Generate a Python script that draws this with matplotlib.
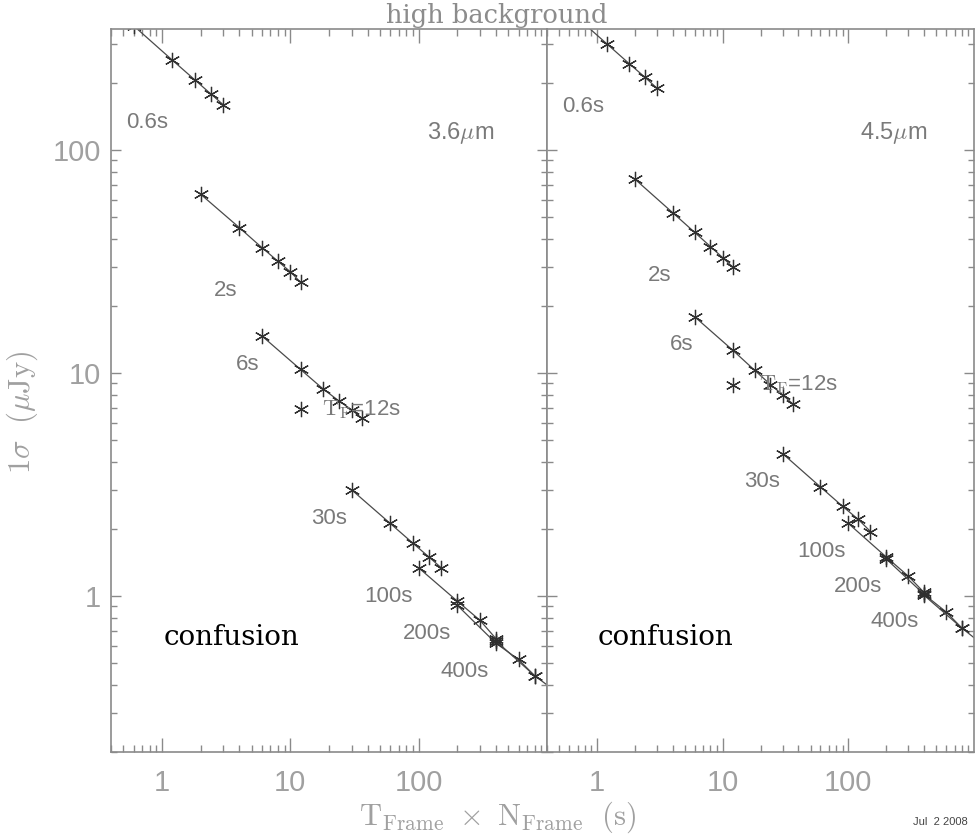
import matplotlib
matplotlib.use("Agg")
import matplotlib.pyplot as plt
from matplotlib.ticker import FixedLocator, LogLocator, NullFormatter, FixedFormatter

plt.rcParams['mathtext.fontset'] = 'cm'

# ---------------- data ----------------
x_06 = [0.6, 1.2, 1.8, 2.4, 3.0]
y36_06 = [362, 254, 207, 179, 160]
y45_06 = [424, 300, 245, 213, 190]

x_2 = [2, 4, 6, 8, 10, 12]
y36_2 = [63.5, 45.0, 36.6, 31.8, 28.5, 25.6]
y45_2 = [74.3, 52.5, 42.8, 37.0, 33.0, 30.0]

x_6 = [6, 12, 18, 24, 30, 36]
y36_6 = [14.7, 10.4, 8.5, 7.5, 6.86, 6.29]
y45_6 = [17.9, 12.7, 10.3, 8.9, 8.0, 7.3]

x_12 = [12]
y36_12 = [6.9]
y45_12 = [8.9]

x_30 = [30, 60, 90, 120, 150]
y36_30 = [3.0, 2.12, 1.73, 1.50, 1.34]
y45_30 = [4.36, 3.09, 2.53, 2.21, 1.95]

x_100 = [100, 200, 300, 400]
y36_100 = [1.34, 0.95, 0.78, 0.645]
y45_100 = [2.12, 1.50, 1.23, 1.04]

x_200 = [200, 400, 600, 800]
y36_200 = [0.91, 0.615, 0.52, 0.44]
y45_200 = [1.47, 1.02, 0.85, 0.72]

x_400 = [400, 800, 1200]
y36_400 = [0.63, 0.44, 0.37]
y45_400 = [1.01, 0.72, 0.60]

xticks = [1, 10, 100]
xtick_labels = ['1', '10', '100']
yticks = [1, 10, 100]
ytick_labels = ['1', '10', '100']

# labels: (text, x, y) in data coords for each panel
labels36 = [('0.6s', 0.525, 133), ('2s', 2.54, 23.6), ('6s', 3.77, 10.9),
            ('30s', 14.4, 2.23), ('100s', 37.9, 1.0), ('200s', 74.8, 0.68),
            ('400s', 148, 0.46)]
labels45 = [('0.6s', 0.524, 158), ('2s', 2.52, 27.5), ('6s', 3.82, 13.4),
            ('30s', 14.8, 3.26), ('100s', 39.5, 1.59), ('200s', 76.3, 1.10),
            ('400s', 150, 0.766)]

panels = [
    dict(name=r'3.6$\mu$m', name_pos=(117, 120), tf_pos=(17.5, 6.86),
         series=[(x_06, y36_06), (x_2, y36_2), (x_6, y36_6), (x_12, y36_12),
                 (x_30, y36_30), (x_100, y36_100), (x_200, y36_200), (x_400, y36_400)],
         labels=labels36),
    dict(name=r'4.5$\mu$m', name_pos=(123, 120), tf_pos=(19.3, 8.88),
         series=[(x_06, y45_06), (x_2, y45_2), (x_6, y45_6), (x_12, y45_12),
                 (x_30, y45_30), (x_100, y45_100), (x_200, y45_200), (x_400, y45_400)],
         labels=labels45),
]

# ---------------- figure ----------------
W, H = 977, 834
fig = plt.figure(figsize=(W / 100, H / 100), dpi=100)
ax1 = fig.add_axes([111 / W, 82 / H, 436 / W, 723 / H])
ax2 = fig.add_axes([547 / W, 82 / H, 427 / W, 723 / H])

spine_c = '#8a8a8a'
tick_lab_c = '#a0a0a0'
lab_c = '#7a7a7a'
mk = (6, 2, 0)

for i, (ax, p) in enumerate(zip([ax1, ax2], panels)):
    ax.set_xscale('log')
    ax.set_yscale('log')
    ax.set_xlim(0.4, 1000)
    ax.set_ylim(0.2, 350)
    for (xs, ys) in p['series']:
        ax.plot(xs, ys, color='#4a4a4a', lw=0.9, marker=mk, ms=11, mew=0.9,
                mec='#303030', mfc='#303030')
    for s in ax.spines.values():
        s.set_color(spine_c)
        s.set_linewidth(1.2)
    ax.xaxis.set_major_locator(FixedLocator(xticks))
    ax.xaxis.set_major_formatter(FixedFormatter(xtick_labels))
    ax.xaxis.set_minor_locator(LogLocator(base=10, subs=range(2, 10), numticks=20))
    ax.xaxis.set_minor_formatter(NullFormatter())
    ax.yaxis.set_major_locator(FixedLocator(yticks))
    ax.yaxis.set_major_formatter(FixedFormatter(ytick_labels))
    ax.yaxis.set_minor_locator(LogLocator(base=10, subs=range(2, 10), numticks=20))
    ax.yaxis.set_minor_formatter(NullFormatter())
    ax.tick_params(axis='both', which='both', direction='in', top=True, right=True,
                   color=spine_c, width=1.0, labelcolor=tick_lab_c)
    ax.tick_params(axis='x', which='major', length=10, pad=12, labelsize=21)
    ax.tick_params(axis='x', which='minor', length=5)
    ax.tick_params(axis='y', which='major', length=7, pad=7, labelsize=21)
    ax.tick_params(axis='y', which='minor', length=4)
    for lab in ax.get_xticklabels() + ax.get_yticklabels():
        lab.set_fontfamily('Liberation Sans')
    if i == 1:
        ax.tick_params(axis='y', which='both', labelleft=False)

    for (t, x, y) in p['labels']:
        ax.text(x, y, t, ha='left', va='center', fontsize=16, color=lab_c,
                family='Liberation Sans')
    ax.text(p['name_pos'][0], p['name_pos'][1], p['name'], ha='left', va='center',
            fontsize=17, color=lab_c, family='Liberation Sans')
    ax.text(p['tf_pos'][0], p['tf_pos'][1], r'$\mathrm{T_F}$=12s', ha='left', va='center',
            fontsize=16, color=lab_c, family='Liberation Sans')
    ax.text(1.02, 0.655, 'confusion', ha='left', va='center', fontsize=20,
            color='black', family='DejaVu Serif')

fig.text(497 / W, 1 - 15 / H, 'high background', ha='center', va='center',
         fontsize=18.5, color='#8c8c8c', family='DejaVu Serif')
fig.text(498 / W, 1 - 817 / H, r'$\mathrm{T_{Frame}\ \times\ N_{Frame}\ \ (s)}$',
         ha='center', va='center', fontsize=22, color=tick_lab_c)
fig.text(22 / W, 1 - 412 / H, r'$1\sigma\ \ (\mu\mathrm{Jy})$', ha='center', va='center',
         rotation=90, fontsize=22, color=tick_lab_c)
fig.text(940 / W, 1 - 822 / H, 'Jul  2 2008', ha='center', va='center', fontsize=8,
         color='#444444', family='Liberation Sans')

fig.savefig('out.png', dpi=100)
